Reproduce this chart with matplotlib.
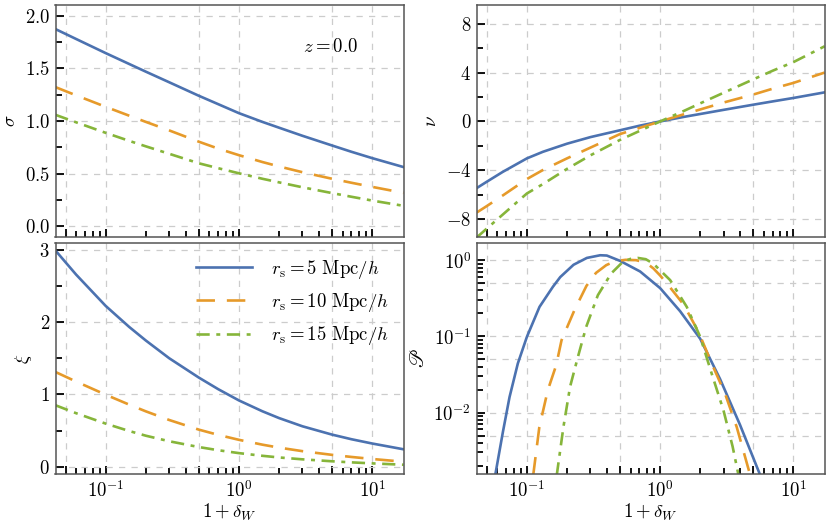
import matplotlib
matplotlib.use("Agg")
import matplotlib.pyplot as plt
from matplotlib.ticker import FixedLocator, FixedFormatter, NullFormatter

plt.rcParams['mathtext.fontset'] = 'cm'
plt.rcParams['font.family'] = ['DejaVu Serif']

# ---------------- data ----------------
labels = [r'$r_{\rm s} = 5\ {\rm Mpc}/h$',
          r'$r_{\rm s} = 10\ {\rm Mpc}/h$',
          r'$r_{\rm s} = 15\ {\rm Mpc}/h$']

x_sig = [0.042, 0.06, 0.1, 0.15, 0.2, 0.3, 0.5, 0.7, 1.0, 1.5, 2.0, 3.0, 5.0, 7.0, 10.0, 17.2]
sigma_5 = [1.874, 1.780, 1.646, 1.543, 1.470, 1.369, 1.241, 1.161, 1.076, 0.993, 0.938, 0.861, 0.769, 0.709, 0.649, 0.564]
sigma_10 = [1.323, 1.245, 1.136, 1.052, 0.993, 0.912, 0.805, 0.739, 0.677, 0.612, 0.570, 0.515, 0.453, 0.415, 0.376, 0.319]
sigma_15 = [1.060, 0.989, 0.889, 0.813, 0.761, 0.690, 0.600, 0.553, 0.505, 0.453, 0.419, 0.372, 0.317, 0.282, 0.246, 0.196]

x_nu = [0.042, 0.05, 0.066, 0.1, 0.132, 0.2, 0.3, 0.5, 0.7, 1.0, 1.5, 2.0, 3.0, 5.0, 7.0, 10.0, 17.2]
nu_5 = [-5.45, -4.93, -4.12, -3.02, -2.48, -1.82, -1.28, -0.72, -0.35, 0.0, 0.37, 0.61, 0.95, 1.37, 1.64, 1.92, 2.38]
nu_10 = [-7.45, -6.92, -6.05, -4.71, -3.97, -3.02, -2.14, -1.03, -0.53, 0.0, 0.58, 0.98, 1.55, 2.20, 2.68, 3.15, 4.00]
nu_15 = [-9.49, -8.76, -7.61, -5.89, -5.12, -3.88, -2.77, -1.51, -0.78, 0.0, 0.85, 1.48, 2.35, 3.44, 4.15, 4.85, 6.15]

x_xi = [0.042, 0.06, 0.1, 0.15, 0.2, 0.3, 0.5, 0.7, 1.0, 1.5, 2.0, 3.0, 5.0, 7.0, 10.0, 17.2]
xi_5 = [2.99, 2.657, 2.224, 1.934, 1.746, 1.500, 1.233, 1.072, 0.917, 0.767, 0.673, 0.559, 0.444, 0.380, 0.321, 0.241]
xi_10 = [1.31, 1.178, 0.996, 0.859, 0.766, 0.646, 0.513, 0.440, 0.372, 0.305, 0.264, 0.215, 0.164, 0.135, 0.107, 0.069]
xi_15 = [0.85, 0.740, 0.596, 0.494, 0.429, 0.352, 0.272, 0.228, 0.188, 0.151, 0.128, 0.102, 0.075, 0.060, 0.046, 0.027]

x_P5 = [0.0578, 0.0661, 0.0741, 0.0855, 0.1, 0.1244, 0.1567, 0.178, 0.224, 0.282, 0.355, 0.398, 0.5, 0.708, 1.0, 1.413, 2.0, 2.82, 3.98, 5.65]
P_5 = [1.5e-3, 5.6e-3, 1.6e-2, 4.41e-2, 9.86e-2, 0.244, 0.447, 0.60, 0.87, 1.07, 1.16, 1.15, 0.98, 0.71, 0.43, 0.214, 0.093, 0.0275, 6.9e-3, 1.5e-3]

x_P10 = [0.1115, 0.124, 0.1436, 0.166, 0.182, 0.2275, 0.28, 0.33, 0.394, 0.46, 0.55, 0.66, 0.78, 0.89, 1.0, 1.20, 1.50, 1.94, 2.44, 3.07, 3.76, 4.75]
P_10 = [1.5e-3, 6.46e-3, 1.97e-2, 4.19e-2, 8.9e-2, 0.221, 0.46, 0.68, 0.86, 0.97, 1.01, 1.0, 0.93, 0.78, 0.63, 0.43, 0.262, 0.115, 4.41e-2, 1.78e-2, 6.46e-3, 1.5e-3]

x_P15 = [0.1675, 0.188, 0.211, 0.2415, 0.2786, 0.341, 0.429, 0.525, 0.60, 0.68, 0.78, 0.89, 1.19, 1.585, 2.0, 2.44, 2.99, 3.5, 3.88]
P_15 = [1.5e-3, 6.46e-3, 2.19e-2, 5.37e-2, 0.133, 0.347, 0.668, 0.95, 1.04, 1.07, 1.03, 0.90, 0.547, 0.244, 9.86e-2, 3.24e-2, 1.07e-2, 3.6e-3, 1.5e-3]

# ticks
x_major = [0.05, 0.1, 0.5, 1, 5, 10]
x_major_labels = ['', r'$10^{-1}$', '', r'$10^{0}$', '', r'$10^{1}$']
x_minor = [0.06, 0.07, 0.08, 0.09, 0.2, 0.3, 0.4, 0.6, 0.7, 0.8, 0.9,
           2, 3, 4, 6, 7, 8, 9]
sig_ticks = [0.0, 0.5, 1.0, 1.5, 2.0]
sig_labels = [r'$0.0$', r'$0.5$', r'$1.0$', r'$1.5$', r'$2.0$']
sig_minor = [0.25, 0.75, 1.25, 1.75]
nu_ticks = [-8, -4, 0, 4, 8]
nu_labels = [r'$-8$', r'$-4$', r'$0$', r'$4$', r'$8$']
nu_minor = [-6, -2, 2, 6]
xi_ticks = [0, 1, 2, 3]
xi_labels = [r'$0$', r'$1$', r'$2$', r'$3$']
xi_minor = [0.5, 1.5, 2.5]
P_ticks = [5e-3, 1e-2, 5e-2, 1e-1, 5e-1, 1.0]
P_labels = ['', r'$10^{-2}$', '', r'$10^{-1}$', '', r'$10^{0}$']
P_minor = [2e-3, 3e-3, 4e-3, 6e-3, 7e-3, 8e-3, 9e-3,
           2e-2, 3e-2, 4e-2, 6e-2, 7e-2, 8e-2, 9e-2,
           0.2, 0.3, 0.4, 0.6, 0.7, 0.8, 0.9]

# ---------------- style ----------------
colors = ['#4C72B0', '#E69A2A', '#86B53A']
styles = ['-', (0, (7, 4.5)), (0, (5, 2.5, 1.5, 2.5))]
LW = 1.9
FS = 13.5

fig = plt.figure(figsize=(8.31, 5.28), dpi=100)
W, H = 831.0, 528.0
lx0, rx0, cw = 55.5 / W, 476.7 / W, 348.0 / W
ty0, by0, rh = 1 - 237.0 / H, 1 - 474.3 / H, 231.7 / H

ax_s = fig.add_axes([lx0, ty0, cw, rh])
ax_n = fig.add_axes([rx0, ty0, cw, rh])
ax_x = fig.add_axes([lx0, by0, cw, rh])
ax_p = fig.add_axes([rx0, by0, cw, rh])

def style_axis(ax, yt, ytl, ymin, bottom_labels):
    ax.set_xscale('log')
    ax.set_xlim(0.042, 17.2)
    ax.xaxis.set_major_locator(FixedLocator(x_major))
    ax.xaxis.set_minor_locator(FixedLocator(x_minor))
    if bottom_labels:
        ax.xaxis.set_major_formatter(FixedFormatter(x_major_labels))
    else:
        ax.xaxis.set_major_formatter(NullFormatter())
    ax.xaxis.set_minor_formatter(NullFormatter())
    ax.yaxis.set_major_locator(FixedLocator(yt))
    ax.yaxis.set_major_formatter(FixedFormatter(ytl))
    ax.yaxis.set_minor_locator(FixedLocator(ymin))
    ax.yaxis.set_minor_formatter(NullFormatter())
    ax.tick_params(which='both', direction='in', top=False, right=False,
                   color='black', width=1.3, labelsize=FS, pad=4)
    ax.tick_params(which='major', length=6)
    ax.tick_params(which='minor', length=4)
    ax.grid(True, which='major', color='#cccccc', linestyle=(0, (5, 5)), linewidth=0.9)
    for sp in ax.spines.values():
        sp.set_color('#555555')
        sp.set_linewidth(1.1)

series_s = [sigma_5, sigma_10, sigma_15]
series_n = [nu_5, nu_10, nu_15]
series_x = [xi_5, xi_10, xi_15]
series_p = [(x_P5, P_5), (x_P10, P_10), (x_P15, P_15)]

for i in range(3):
    ax_s.plot(x_sig, series_s[i], color=colors[i], linestyle=styles[i], lw=LW)
    ax_n.plot(x_nu, series_n[i], color=colors[i], linestyle=styles[i], lw=LW)
    ax_x.plot(x_xi, series_x[i], color=colors[i], linestyle=styles[i], lw=LW, label=labels[i])
    ax_p.plot(series_p[i][0], series_p[i][1], color=colors[i], linestyle=styles[i], lw=LW)

style_axis(ax_s, sig_ticks, sig_labels, sig_minor, False)
ax_s.set_ylim(-0.1, 2.1)
style_axis(ax_n, nu_ticks, nu_labels, nu_minor, False)
ax_n.set_ylim(-9.45, 9.5)
style_axis(ax_x, xi_ticks, xi_labels, xi_minor, True)
ax_x.set_ylim(-0.105, 3.1)
ax_p.set_yscale('log')
style_axis(ax_p, P_ticks, P_labels, P_minor, True)
ax_p.set_ylim(1.55e-3, 1.7)

ax_s.set_ylabel(r'$\sigma$', fontsize=FS, labelpad=4)
ax_n.set_ylabel(r'$\nu$', fontsize=FS, labelpad=4)
ax_x.set_ylabel(r'$\xi$', fontsize=FS, labelpad=4)
ax_p.set_ylabel(r'$\mathscr{P}$', fontsize=FS + 1, labelpad=4, math_fontfamily='stix')
ax_x.set_xlabel(r'$1+\delta_W$', fontsize=FS, labelpad=1)
ax_p.set_xlabel(r'$1+\delta_W$', fontsize=FS, labelpad=1)

ax_s.text(0.79, 0.82, r'$z = 0.0$', transform=ax_s.transAxes,
          ha='center', va='center', fontsize=FS)

ax_x.legend(loc='upper right', frameon=False, fontsize=FS, handlelength=3.0,
            handletextpad=1.0, labelspacing=0.55, borderaxespad=0.4)

fig.savefig('out.png', dpi=100)
